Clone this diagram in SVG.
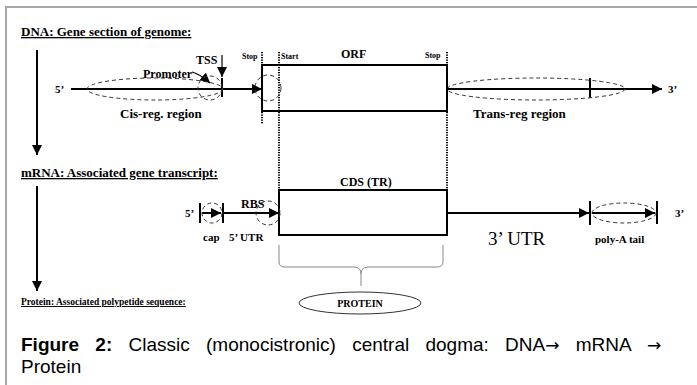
<svg xmlns="http://www.w3.org/2000/svg" width="697" height="385" viewBox="0 0 697 385">
<defs>
<style>
.s{font-family:"Liberation Serif",serif;font-weight:bold;fill:#000}
.h{font-size:13px;text-decoration:underline}
.t{font-size:8px}
.ln{stroke:#000;stroke-width:2;fill:none}
.tk{stroke:#000;stroke-width:2}
.ds{stroke:#333;stroke-width:1;stroke-dasharray:4,3;fill:none}
.dt{stroke:#000;stroke-width:2;stroke-dasharray:1.2,1.3;fill:none}
.bx{stroke:#000;stroke-width:2;fill:#fff}
.cap{font-family:"Liberation Sans",Arial,sans-serif;font-size:19px;fill:#000}
.ar{font-family:"DejaVu Sans",sans-serif;font-size:17px}
</style>
<marker id="ah" viewBox="0 0 10 10" refX="10" refY="5" markerWidth="10" markerHeight="10" markerUnits="userSpaceOnUse" orient="auto">
<path d="M0,0 L10,5 L0,10 z" fill="#000"/>
</marker>
</defs>
<rect width="697" height="385" fill="#fff"/>
<path d="M6,385 V7 H697" fill="none" stroke="#a8a8a8" stroke-width="2"/>

<g id="labels">
<text class="s h" x="21" y="36">DNA: Gene section of genome:</text>
<text class="s h" x="21" y="177">mRNA: Associated gene transcript:</text>
<text class="s" x="21" y="305" font-size="9.5" text-decoration="underline">Protein: Associated polypetide  sequence:</text>
</g>

<g id="connectors">
<line class="ln" x1="37" y1="50" x2="37" y2="155" marker-end="url(#ah)"/>
<line class="ln" x1="37" y1="186" x2="37" y2="291" marker-end="url(#ah)"/>
<line class="ln" x1="71" y1="89" x2="262" y2="89" marker-end="url(#ah)"/>
<line class="ln" x1="447" y1="89" x2="662" y2="89" marker-end="url(#ah)"/>
<line class="tk" x1="222" y1="78" x2="222" y2="97"/>
<line class="tk" x1="590" y1="78" x2="590" y2="98"/>
<line x1="222" y1="55" x2="222" y2="77" stroke="#000" stroke-width="1.2" marker-end="url(#ah)"/>
<path d="M192,72 Q200,74 210,83" stroke="#000" stroke-width="1.2" fill="none" marker-end="url(#ah)"/>
<line class="tk" x1="200" y1="203" x2="200" y2="223"/>
<line class="ln" x1="202" y1="213" x2="221" y2="213" marker-end="url(#ah)"/>
<line class="tk" x1="223" y1="203" x2="223" y2="223"/>
<line class="ln" x1="223" y1="213" x2="279" y2="213" marker-end="url(#ah)"/>
<line class="ln" x1="447" y1="213" x2="589" y2="213" marker-end="url(#ah)"/>
<line class="tk" x1="590" y1="201" x2="590" y2="225"/>
<line class="ln" x1="592" y1="213" x2="655" y2="213" marker-end="url(#ah)"/>
<line class="tk" x1="657" y1="201" x2="657" y2="224"/>
<path d="M279,245 V262 Q279,267 285,267 H354 Q361,267 361,274 V286 M361,274 Q361,267 368,267 H437 Q443,267 443,262 V245" stroke="#888" stroke-width="1" fill="none"/>
</g>

<g id="dna">
<ellipse class="ds" cx="155" cy="89" rx="68" ry="11"/>
<ellipse class="ds" cx="210" cy="88" rx="12" ry="12"/>
<ellipse class="ds" cx="536" cy="89" rx="89" ry="11"/>
<text class="s" x="55" y="93" font-size="11">5’</text>
<text class="s" x="668" y="93" font-size="11">3’</text>
<text class="s" x="143" y="78" font-size="12">Promoter</text>
<text class="s" x="196" y="64" font-size="12">TSS</text>
<text class="s" x="120" y="118" font-size="13">Cis-reg. region</text>
<text class="s" x="473" y="118" font-size="13">Trans-reg  region</text>
</g>

<g id="orf">
<rect class="bx" x="262" y="65" width="185" height="46"/>
<circle class="ds" cx="268" cy="88" r="13"/>
<line class="dt" x1="262" y1="52" x2="262" y2="124"/>
<line class="dt" x1="279" y1="52" x2="279" y2="189"/>
<line class="dt" x1="447" y1="52" x2="447" y2="235"/>
<text class="s" x="341" y="58" font-size="12">ORF</text>
<text class="s t" x="242" y="59">Stop</text>
<text class="s t" x="281" y="59">Start</text>
<text class="s t" x="425" y="58">Stop</text>
</g>

<g id="cds">
<rect class="bx" x="279" y="190" width="168" height="45"/>
<line class="dt" x1="447" y1="190" x2="447" y2="235"/>
<text class="s" x="340" y="186" font-size="12">CDS (TR)</text>
</g>

<g id="mrna">
<circle class="ds" cx="212" cy="213" r="10"/>
<circle class="ds" cx="268" cy="213" r="12"/>
<ellipse class="ds" cx="624" cy="213" rx="32" ry="10"/>
<text class="s" x="185" y="217" font-size="11">5’</text>
<text class="s" x="675" y="217" font-size="11">3’</text>
<text class="s" x="241" y="208" font-size="12">RBS</text>
<text class="s" x="203" y="241" font-size="11">cap</text>
<text class="s" x="229" y="241" font-size="11">5’ UTR</text>
<text x="488" y="245" font-family="Liberation Serif,serif" font-size="19" fill="#000">3’ UTR</text>
<text class="s" x="595" y="243" font-size="11">poly-A  tail</text>
</g>

<g id="protein">
<ellipse cx="360" cy="303" rx="61" ry="11" fill="#fff" stroke="#333" stroke-width="1"/>
<text class="s" x="360" y="307" font-size="10" text-anchor="middle">PROTEIN</text>
</g>

<g id="caption">
<text class="cap" x="21" y="351" word-spacing="11"><tspan font-weight="bold">Figure 2:</tspan> Classic (monocistronic) central dogma: DNA<tspan class="ar">→</tspan> mRNA <tspan class="ar">→</tspan></text>
<text class="cap" x="21" y="373">Protein</text>
</g>
</svg>
